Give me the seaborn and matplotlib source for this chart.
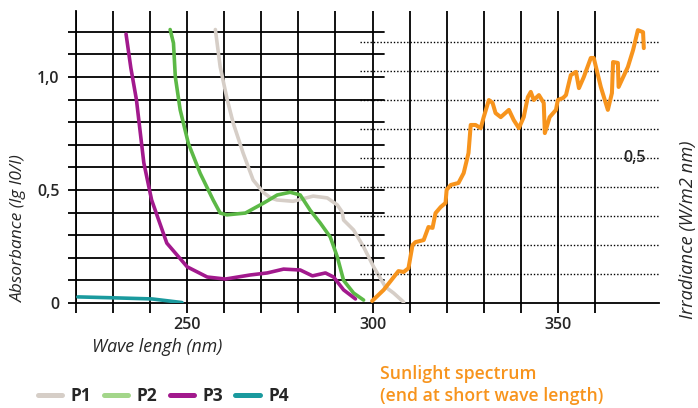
import matplotlib
matplotlib.use("Agg")
import matplotlib.pyplot as plt
from matplotlib.lines import Line2D
import seaborn as sns
import pandas as pd

# ---------------- data ----------------
P1_x = [257.6, 258.9, 260.8, 262.4, 265.1, 267.8, 270.5, 272.5, 274.2, 278.6, 284.0, 287.8,
        290.5, 291.8, 292.2, 294.9, 297.6, 300.3, 303.5, 305.7, 308.4]
P1_y = [1.21, 1.045, 0.90, 0.797, 0.663, 0.544, 0.49, 0.465, 0.456, 0.45, 0.473, 0.465,
        0.434, 0.403, 0.367, 0.323, 0.248, 0.16, 0.071, 0.044, 0.004]

P2_x = [245.4, 246.3, 246.8, 248.1, 250.3, 253.5, 257.0, 258.9, 260.7, 265.7, 270.6, 274.3,
        277.8, 280.5, 283.2, 285.9, 288.6, 290.5, 292.2, 294.9, 297.6]
P2_y = [1.21, 1.15, 1.0, 0.855, 0.707, 0.574, 0.456, 0.398, 0.39, 0.398, 0.442, 0.478,
        0.49, 0.478, 0.41, 0.354, 0.292, 0.204, 0.10, 0.044, 0.013]

P3_x = [233.5, 234.8, 236.3, 238.3, 240.4, 244.5, 250.0, 255.4, 260.3, 267.0, 271.6, 276.0,
        280.5, 283.8, 287.3, 289.5, 292.2, 295.4]
P3_y = [1.19, 1.04, 0.90, 0.62, 0.456, 0.265, 0.16, 0.115, 0.106, 0.124, 0.133, 0.15,
        0.146, 0.12, 0.133, 0.115, 0.058, 0.018]

P4_x = [220.5, 230.0, 240.5, 248.6]
P4_y = [0.027, 0.023, 0.018, 0.002]

SUN_x = [299.9, 303.0, 307.0, 308.4, 309.7, 310.8, 311.6, 313.8, 315.1, 316.2, 317.0, 318.4,
         319.7, 320.0, 321.1, 323.2, 324.6, 325.9, 326.5, 327.8, 329.2, 330.0, 331.4, 332.4,
         333.2, 334.6, 336.8, 338.1, 339.5, 340.8, 341.9, 342.7, 343.5, 344.9, 346.2, 346.5,
         347.8, 349.5, 350.0, 351.4, 352.2, 353.5, 354.9, 355.7, 357.0, 358.9, 359.7, 361.6,
         363.5, 364.6, 364.9, 366.2, 366.4, 368.9, 370.3, 371.6, 373.0, 373.2]
SUN_y = [0.007, 0.045, 0.11, 0.107, 0.12, 0.20, 0.21, 0.217, 0.262, 0.259, 0.31, 0.331,
         0.345, 0.39, 0.407, 0.414, 0.448, 0.517, 0.614, 0.614, 0.603, 0.641, 0.70, 0.69,
         0.655, 0.641, 0.666, 0.631, 0.603, 0.641, 0.71, 0.728, 0.70, 0.717, 0.69, 0.586,
         0.641, 0.666, 0.70, 0.707, 0.717, 0.786, 0.797, 0.741, 0.779, 0.845, 0.845, 0.745,
         0.666, 0.724, 0.831, 0.828, 0.745, 0.814, 0.872, 0.941, 0.934, 0.879]

SERIES = ["P1", "P2", "P3", "P4"]
LINE_COLORS = ["#d6cec7", "#5cb946", "#a2198d", "#1a9a9e"]
LEGEND_COLORS = ["#d6cec7", "#a3d68a", "#a2198d", "#1a9a9e"]
SUN_COLOR = "#f7941d"

X_TICKS = list(range(220, 370, 10))
X_LABELS = {250: "250", 300: "300", 350: "350"}
Y_TICKS = [round(0.1 * i, 1) for i in range(13)]
Y_LABELS = {0.0: "0", 0.5: "0,5", 1.0: "1,0"}
Y2_TICKS = [round(0.1 * i, 1) for i in range(1, 10)]

# ---------------- style ----------------
sns.set_theme(style="white")
plt.rcParams["font.family"] = ["Open Sans", "DejaVu Sans"]

W, H = 698, 408
fig = plt.figure(figsize=(W / 100, H / 100), dpi=100)
left_px, right_px, top_px, bot_px = 76, 659, 11, 303
ax = fig.add_axes([left_px / W, 1 - bot_px / H, (right_px - left_px) / W, (bot_px - top_px) / H])
ax.set_xlim(220, 377.3)
ax.set_ylim(0, 1.292)

ax2 = ax.twinx()
ax2.set_ylim(0, 1.007)

lw_grid = 1.3
TICK_FONT = {"fontsize": 11.5, "fontweight": "semibold"}
# vertical grid
ax.set_xticks(X_TICKS)
ax.set_xticklabels([X_LABELS.get(t, "") for t in X_TICKS], **TICK_FONT)
ax.grid(True, axis="x", color="black", lw=lw_grid)
ax.grid(False, axis="y")
ax.tick_params(axis="x", direction="out", length=7.2, width=lw_grid, color="black", pad=3,
               bottom=True)
ax.set_yticks(Y_TICKS)
ax.set_yticklabels([Y_LABELS.get(t, "") for t in Y_TICKS], **TICK_FONT)
ax.tick_params(axis="y", direction="out", length=5.8, width=lw_grid, color="black", pad=6,
               left=True)
for s in ["top", "right"]:
    ax.spines[s].set_visible(False)
for s in ["left", "bottom"]:
    ax.spines[s].set_color("black")
    ax.spines[s].set_linewidth(lw_grid)

# horizontal grid of the absorbance part
frac_end = (384 - left_px) / (right_px - left_px)
for v in Y_TICKS[1:]:
    ax.axhline(v, xmin=0, xmax=frac_end, color="black", lw=lw_grid, zorder=1)

# dotted irradiance grid
frac_start = (360 - left_px) / (right_px - left_px)
for v in Y2_TICKS:
    ax2.axhline(v, xmin=frac_start, xmax=1.0, color="black", lw=1.0, ls=(0, (1, 1.4)), zorder=1)

ax2.set_yticks([])
for s in ax2.spines.values():
    s.set_visible(False)
ax2.text(370.8, 0.5, "0,5", ha="center", va="center", **TICK_FONT)

# ---------------- data lines ----------------
data = {"P1": (P1_x, P1_y), "P2": (P2_x, P2_y), "P3": (P3_x, P3_y), "P4": (P4_x, P4_y)}
for name, col in zip(SERIES, LINE_COLORS):
    xs, ys = data[name]
    df = pd.DataFrame({"wl": xs, "a": ys})
    sns.lineplot(data=df, x="wl", y="a", ax=ax, color=col, lw=2.6, estimator=None,
                 sort=False, legend=False, zorder=3, solid_joinstyle="round")

df_sun = pd.DataFrame({"wl": SUN_x, "irr": SUN_y})
sns.lineplot(data=df_sun, x="wl", y="irr", ax=ax2, color=SUN_COLOR, lw=2.9, estimator=None,
             sort=False, legend=False, zorder=3, solid_joinstyle="round")
ax.set_xlabel("")
ax.set_ylabel("")
ax2.set_xlabel("")
ax2.set_ylabel("")

# ---------------- texts ----------------
fig.text(157 / W, 1 - 347 / H, "Wave lengh (nm)", ha="center", va="center",
         fontsize=12.8, style="italic")
fig.text(19 / W, 1 - 228 / H, "Absorbance (lg I0/I)", ha="center", va="center",
         rotation=90, fontsize=12.5, style="italic")
fig.text(688 / W, 1 - 230 / H, "Irradiance (W/m2 nm)", ha="center", va="center",
         rotation=90, fontsize=13.2, style="italic")
fig.text(380 / W, 1 - 385 / H, "Sunlight spectrum\n(end at short wave length)", ha="left",
         va="center", fontsize=12.7, fontweight="semibold", color=SUN_COLOR, linespacing=1.3)

handles = [Line2D([], [], color=c, lw=3.6) for c in LEGEND_COLORS]
fig.legend(handles, SERIES, loc="center left", bbox_to_anchor=(38 / W, 1 - 396 / H),
           ncol=4, frameon=False, borderpad=0, borderaxespad=0, handlelength=1.4,
           handletextpad=0.5, columnspacing=0.7,
           prop={"size": 12.5, "weight": "bold"})

fig.savefig("out.png", dpi=100)
